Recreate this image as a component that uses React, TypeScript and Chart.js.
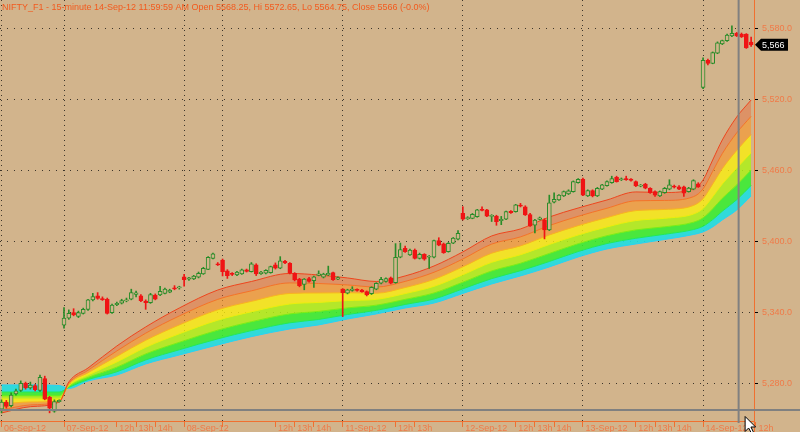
import React, { useEffect, useRef } from 'react';
import { Chart, registerables } from 'chart.js';

Chart.register(...registerables);

const TITLE = 'NIFTY_F1 - 15-minute 14-Sep-12 11:59:59 AM Open 5568.25, Hi 5572.65, Lo 5564.75, Close 5566 (-0.0%)';

// 15-minute bars: 06-Sep(13) 07-Sep(25) 08-Sep(8) 10-Sep(25) 11-Sep(25) 12-Sep(25) 13-Sep(25) 14-Sep(11)
const openP = [
  5258, 5264, 5261, 5271, 5274, 5280, 5276, 5278, 5274, 5284, 5268, 5256.5, 5264.5,
  5329, 5335, 5339.7, 5336.5, 5339, 5342.5, 5350.4, 5353.8, 5351.5, 5351, 5339.7, 5346.5, 5347.6, 5349.5, 5351, 5355, 5353.8, 5349.5, 5348, 5354.6, 5354.6, 5356, 5357, 5360.5, 5360.5,
  5370, 5368, 5368.2, 5369.6, 5372.4, 5376.3, 5385.6, 5381,
  5384, 5375, 5372.8, 5371.5, 5372.4, 5375.8, 5374.4, 5380, 5372.6, 5373, 5373.5, 5380, 5377.2, 5383, 5381.4, 5373, 5368, 5363.5, 5368.5, 5366.6, 5371.2, 5369.6, 5371.5, 5373.5, 5368,
  5359.5, 5356.2, 5358.4, 5359.2, 5358.7, 5357.4, 5355.8, 5359.5, 5364.5, 5366, 5369, 5365, 5386.5, 5394, 5388.4, 5392.6, 5385.6, 5389, 5386.5, 5386.5, 5400.5, 5397.8, 5391.2, 5398.3, 5401.7,
  5423.7, 5419, 5419.4, 5420.8, 5427, 5426.5, 5421, 5421.3, 5417.5, 5418.6, 5425.2, 5425, 5430.5, 5429.2, 5422.5, 5413.5, 5418.5, 5418, 5409.5, 5433, 5435, 5438.3, 5440, 5442, 5449.5,
  5452.4, 5438.3, 5442.8, 5438.3, 5444, 5447, 5449.5, 5454, 5452, 5453, 5452.5, 5450.4, 5446.5, 5448.4, 5444.8, 5442, 5438.3, 5441, 5444, 5446.5, 5446, 5446, 5442, 5444, 5448.6,
  5530, 5553, 5550.4, 5559, 5566.7, 5569.5, 5573.5, 5575.8, 5575, 5575, 5568.25,
];
const highP = [
  5266, 5265.5, 5272, 5275, 5282, 5281, 5281, 5279, 5287, 5286, 5269, 5266, 5266,
  5344, 5342, 5343, 5341, 5343.5, 5351, 5356, 5356.6, 5353, 5352, 5347, 5348.5, 5351, 5352, 5359.5, 5358, 5355, 5350.5, 5356, 5355.5, 5362, 5360.5, 5359.5, 5362.5, 5362,
  5372, 5369.5, 5371.2, 5374, 5378, 5387, 5390, 5382,
  5385, 5376, 5373.5, 5374.5, 5376.5, 5376.5, 5382, 5381, 5374.5, 5376, 5379, 5381.7, 5387, 5383.8, 5382, 5373.5, 5368.7, 5368.5, 5369.5, 5370.5, 5375, 5373, 5379, 5374, 5370,
  5360, 5359.5, 5361.6, 5359.8, 5359.3, 5358, 5361.5, 5365, 5369.5, 5369, 5369.8, 5398, 5398.5, 5396, 5393.5, 5393.5, 5390, 5389.5, 5388, 5401, 5403, 5398.5, 5399, 5403.2, 5409,
  5429.2, 5420.8, 5423.5, 5427, 5429, 5427, 5422.5, 5422, 5421, 5425.5, 5426, 5431.2, 5432, 5430, 5423.7, 5418.5, 5420.5, 5419, 5439, 5441, 5439.5, 5442.5, 5443.5, 5451, 5453,
  5453.5, 5443.5, 5443.5, 5445.5, 5448.2, 5451, 5455, 5455, 5453.5, 5455, 5453, 5451, 5448, 5449, 5445.3, 5442.6, 5442.5, 5445.5, 5452, 5447.5, 5447, 5446.7, 5445.6, 5452, 5449.5,
  5555, 5554, 5560, 5568.5, 5570, 5575, 5582, 5576.5, 5576, 5575.5, 5572.65,
];
const lowP = [
  5255, 5259, 5260, 5270, 5273, 5275, 5275, 5273.5, 5273, 5266, 5255, 5255.5, 5264,
  5326.5, 5334, 5337, 5335.5, 5338.5, 5341.5, 5349.5, 5351, 5350, 5338.5, 5339, 5345.5, 5347, 5348.8, 5350.5, 5353, 5349, 5342.5, 5347.5, 5350.5, 5354, 5355.5, 5356.5, 5359, 5359.5,
  5362, 5367, 5367.6, 5369, 5372, 5376, 5385, 5379.5,
  5370.7, 5368.6, 5371, 5371, 5372, 5374, 5374, 5371, 5372, 5372.4, 5373, 5376.5, 5376.8, 5381, 5372.5, 5366.5, 5361.5, 5359, 5365.5, 5361, 5370.8, 5369, 5371, 5367, 5367.5,
  5336.3, 5355.5, 5357.8, 5357.8, 5357, 5353.8, 5355, 5359, 5364, 5365.5, 5364, 5364.5, 5386, 5390.5, 5388, 5385, 5385, 5384, 5377, 5386, 5396.2, 5389.8, 5390.8, 5398, 5401.2,
  5418, 5418.4, 5419, 5420.3, 5425.6, 5420.8, 5416.7, 5413.5, 5414, 5418.2, 5423.6, 5424.6, 5429, 5421.8, 5412.5, 5407, 5418, 5402, 5409, 5432.5, 5434.5, 5437.8, 5439.5, 5441.5, 5449,
  5438.5, 5437.8, 5437.5, 5437.8, 5443.5, 5446.5, 5449, 5450, 5451.3, 5451.5, 5450.8, 5446.2, 5446, 5444.3, 5440.5, 5438, 5437.8, 5440.5, 5443.5, 5445, 5443.5, 5438, 5441.5, 5443.5, 5445.5,
  5529, 5549, 5550, 5558.5, 5566.2, 5569, 5573, 5573, 5572.2, 5563, 5564.75,
];
const closeP = [
  5264, 5260.5, 5270, 5273.5, 5280, 5276, 5278.5, 5274.5, 5285, 5266.5, 5259, 5264.5, 5265.5,
  5335, 5339, 5337.7, 5339.7, 5342.5, 5350.4, 5353.2, 5351.8, 5350.6, 5339, 5346, 5347.5, 5349.8, 5350.5, 5356.6, 5356.5, 5349.8, 5348, 5355, 5351, 5357.7, 5359.5, 5358.7, 5359.8, 5361.5,
  5367.5, 5369, 5370.5, 5373, 5377.2, 5386.5, 5389.3, 5380,
  5374.4, 5371, 5372, 5374, 5375.8, 5374.6, 5380.9, 5372.5, 5374, 5375.4, 5378.5, 5377.2, 5383.5, 5381.8, 5373, 5367.3, 5362.5, 5368, 5366, 5370, 5372.5, 5372.2, 5373, 5367.5, 5369.3,
  5356.6, 5359, 5359.6, 5358.5, 5357.5, 5354.6, 5361, 5364.5, 5367.8, 5368.5, 5364.6, 5386.5, 5393, 5391.2, 5392.5, 5385.6, 5389, 5384.8, 5387.3, 5400.5, 5396.8, 5390.4, 5398.3, 5402.6, 5406.8,
  5418.6, 5420, 5422.8, 5426.5, 5426, 5421.3, 5421.8, 5416.5, 5418.5, 5425, 5424.2, 5430.7, 5429.6, 5422.2, 5413, 5418, 5419.8, 5409.5, 5432.5, 5435.5, 5439, 5442, 5442.7, 5450.4, 5452.4,
  5439, 5442.8, 5438.3, 5444.8, 5447.6, 5450.4, 5453, 5450.4, 5452.8, 5452, 5451.5, 5446.7, 5447.5, 5444.8, 5441, 5439, 5442, 5444.8, 5447.6, 5445.7, 5444, 5440.6, 5445, 5451.2, 5446,
  5553, 5550.4, 5559.4, 5567.8, 5569.5, 5574.3, 5575.8, 5573.5, 5572.7, 5563.5, 5566,
];

// Moving-average ribbon, read at anchor bars (fast/red line first, slow/cyan last)
const ribbonIdx = [0, 6, 12, 14, 18, 24, 30, 37, 45, 52, 60, 66, 72, 78, 84, 90, 96, 102, 108, 114, 120, 126, 132, 138, 144, 146, 148, 150, 153, 156];
const ribbonRed = [5254.9, 5260.2, 5264.2, 5281.1, 5292.9, 5311.5, 5327.6, 5343.6, 5358.8, 5366.0, 5372.8, 5371.5, 5369.0, 5366.0, 5370.7, 5379.1, 5391.0, 5404.5, 5410.4, 5420.5, 5428.1, 5434.9, 5441.7, 5441.2, 5444.2, 5451.8, 5468.7, 5485.6, 5505.0, 5519.4];
const ribbonOrange = [5257.4, 5261.7, 5264.6, 5279.8, 5291.0, 5307.3, 5322.3, 5336.9, 5350.9, 5358.1, 5364.8, 5364.3, 5363.1, 5361.3, 5366.1, 5373.8, 5385.0, 5397.6, 5403.7, 5413.3, 5421.1, 5427.9, 5434.2, 5434.5, 5437.7, 5444.3, 5459.1, 5474.1, 5491.6, 5505.6];
const ribbonGold = [5262.5, 5264.2, 5265.0, 5279.0, 5288.9, 5302.7, 5316.3, 5329.3, 5342.1, 5349.2, 5355.9, 5356.3, 5356.5, 5356.1, 5360.9, 5367.8, 5378.4, 5389.9, 5396.1, 5405.3, 5413.2, 5420.0, 5425.9, 5426.9, 5430.3, 5436.0, 5448.3, 5461.3, 5476.7, 5490.2];
const ribbonYellow = [5266.7, 5266.7, 5266.7, 5278.1, 5286.9, 5298.0, 5310.4, 5321.8, 5333.3, 5340.4, 5347.0, 5348.3, 5349.9, 5350.9, 5355.8, 5361.9, 5371.7, 5382.2, 5388.6, 5397.3, 5405.3, 5412.1, 5417.5, 5419.4, 5423.0, 5427.7, 5437.6, 5448.4, 5461.8, 5474.8];
const ribbonLime = [5269.3, 5269.3, 5269.3, 5277.3, 5284.9, 5293.6, 5304.8, 5314.6, 5324.9, 5332.0, 5338.6, 5340.7, 5343.7, 5346.0, 5350.9, 5356.3, 5365.4, 5374.9, 5381.4, 5389.7, 5397.9, 5404.7, 5409.6, 5412.2, 5416.1, 5419.8, 5427.4, 5436.3, 5447.6, 5460.2];
const ribbonGreen = [5272.6, 5272.6, 5272.6, 5276.5, 5283.1, 5289.7, 5299.7, 5308.3, 5317.5, 5324.5, 5331.1, 5333.9, 5338.1, 5341.6, 5346.6, 5351.2, 5359.8, 5368.4, 5375.1, 5382.9, 5391.3, 5398.1, 5402.5, 5405.9, 5409.9, 5412.7, 5418.3, 5425.4, 5435.1, 5447.2];
const ribbonCyan = [5278.6, 5278.6, 5278.1, 5275.6, 5281.9, 5287.0, 5296.3, 5303.9, 5312.4, 5319.4, 5325.9, 5329.3, 5334.3, 5338.6, 5343.6, 5347.8, 5355.9, 5363.9, 5370.7, 5378.3, 5386.7, 5393.5, 5397.7, 5401.5, 5405.7, 5407.9, 5412.1, 5418.0, 5426.4, 5438.3];

// x-axis ticks (bar index) and their labels
const xTickIdx = [0, 13, 24, 28, 32, 38, 46, 57, 61, 65, 71, 82, 86, 96, 107, 111, 115, 121, 132, 136, 140, 146, 157];
const xTickLabels = ['06-Sep-12', '07-Sep-12', '12h', '13h', '14h', '08-Sep-12', '', '12h', '13h', '14h', '11-Sep-12', '12h', '13h', '12-Sep-12', '12h', '13h', '14h', '13-Sep-12', '12h', '13h', '14h', '14-Sep-12', '12h'];
const dayStartIdx = [0, 13, 38, 46, 71, 96, 121, 146];
const yTicks = [5280, 5340, 5400, 5460, 5520, 5580];

// crosshair (mouse) position in data units
const CROSS_IDX = 153.4;
const CROSS_VALUE = 5257.4;

// axis ranges
const X_MIN = -0.32;
const X_MAX = 156.6;
const Y_MIN = 5248.1;
const Y_MAX = 5603.9;

const BG = '#D2B48C';
const ORANGE = '#f07030';
const LABEL = '#f07a48';
const GRID = 'rgba(35,30,25,0.85)';
const FONT = '"Liberation Sans", Arial, sans-serif';
const UP = 'rgb(40,140,40)';
const DOWN = 'rgb(240,20,20)';

const ribbonStyles = [
  { line: 'rgb(238,70,30)', fill: 'rgba(0,0,0,0)' },
  { line: 'rgb(245,115,40)', fill: 'rgba(238,95,45,0.4)' },
  { line: 'rgb(250,180,30)', fill: 'rgba(250,150,40,0.62)' },
  { line: 'rgb(235,240,10)', fill: 'rgba(250,238,15,0.8)' },
  { line: 'rgb(120,240,20)', fill: 'rgba(175,240,25,0.85)' },
  { line: 'rgb(30,235,90)', fill: 'rgba(55,238,50,0.88)' },
  { line: 'rgb(40,210,245)', fill: 'rgba(30,222,225,0.9)' },
];

function fmtPrice(v: number, decimals: number) {
  const neg = v < 0;
  const fixed = Math.abs(v).toFixed(decimals);
  const [intPart, dec] = fixed.split('.');
  const withCommas = intPart.replace(/\B(?=(\d{3})+(?!\d))/g, ',');
  return (neg ? '-' : '') + withCommas + (dec ? '.' + dec : '');
}

const overlayPlugin = {
  id: 'overlay',
  beforeDraw(chart: any) {
    const { ctx, width, height } = chart;
    ctx.save();
    ctx.fillStyle = BG;
    ctx.fillRect(0, 0, width, height);
    ctx.restore();
  },
  afterDraw(chart: any) {
    const { ctx, chartArea, scales } = chart;
    const xs = scales.x;
    const ys = scales.y;
    ctx.save();
    ctx.strokeStyle = ORANGE;
    ctx.lineWidth = 1;
    ctx.beginPath();
    ctx.moveTo(chartArea.right + 0.5, chartArea.bottom);
    ctx.lineTo(chartArea.right + 0.5, chart.height);
    ctx.stroke();

    // crosshair
    const cx = xs.getPixelForValue(CROSS_IDX);
    const cy = ys.getPixelForValue(CROSS_VALUE);
    ctx.strokeStyle = 'rgb(128,128,128)';
    ctx.lineWidth = 2;
    ctx.beginPath();
    ctx.moveTo(cx, 0);
    ctx.lineTo(cx, chartArea.bottom + 2);
    ctx.stroke();
    ctx.beginPath();
    ctx.moveTo(0, cy);
    ctx.lineTo(chart.width, cy);
    ctx.stroke();

    // title
    ctx.fillStyle = '#f25a1e';
    ctx.font = '9px ' + FONT;
    ctx.textBaseline = 'top';
    ctx.textAlign = 'left';
    ctx.fillText(TITLE, 2, 3);

    // last price tag
    const last = closeP[closeP.length - 1];
    const py = ys.getPixelForValue(last);
    const left = chartArea.right + 1;
    ctx.fillStyle = '#000';
    ctx.beginPath();
    ctx.moveTo(left, py);
    ctx.lineTo(left + 6, py - 6);
    ctx.lineTo(left + 33, py - 6);
    ctx.lineTo(left + 33, py + 6);
    ctx.lineTo(left + 6, py + 6);
    ctx.closePath();
    ctx.fill();
    ctx.fillStyle = '#fff';
    ctx.font = '9px ' + FONT;
    ctx.textBaseline = 'middle';
    ctx.fillText(fmtPrice(last, 0), left + 7, py + 0.5);

    // mouse pointer
    const tx = cx + 6.5;
    const ty = cy + 6.5;
    ctx.fillStyle = '#fff';
    ctx.strokeStyle = '#000';
    ctx.lineWidth = 1;
    ctx.beginPath();
    ctx.moveTo(tx, ty);
    ctx.lineTo(tx, ty + 15);
    ctx.lineTo(tx + 3.5, ty + 11.5);
    ctx.lineTo(tx + 6.5, ty + 17);
    ctx.lineTo(tx + 8.5, ty + 16);
    ctx.lineTo(tx + 5.8, ty + 10.5);
    ctx.lineTo(tx + 10.5, ty + 10.5);
    ctx.closePath();
    ctx.fill();
    ctx.stroke();
    ctx.restore();
  },
};

export default function App() {
  const ref = useRef<HTMLCanvasElement | null>(null);

  useEffect(() => {
    document.body.style.margin = '0';
    const canvas = ref.current;
    if (!canvas) return;

    const ribbonValues = [ribbonRed, ribbonOrange, ribbonGold, ribbonYellow, ribbonLime, ribbonGreen, ribbonCyan];
    const ribbonSets = ribbonValues.map((vals, k) => ({
      type: 'line' as const,
      data: ribbonIdx.map((x, i) => ({ x, y: vals[i] })),
      borderColor: ribbonStyles[k].line,
      backgroundColor: ribbonStyles[k].fill,
      borderWidth: 1,
      pointRadius: 0,
      cubicInterpolationMode: 'monotone' as const,
      fill: k === 0 ? false : '-1',
      order: 10,
    }));

    const isUp = openP.map((o, i) => closeP[i] >= o);

    const wicks = {
      type: 'bar' as const,
      data: openP.map((_, i) => ({ x: i, y: [lowP[i], highP[i]] })),
      backgroundColor: isUp.map((u) => (u ? UP : DOWN)),
      borderWidth: 0,
      barThickness: 1,
      grouped: false,
      order: 2,
    };

    const bodies = {
      type: 'bar' as const,
      data: openP.map((o, i) => ({ x: i, y: [Math.min(o, closeP[i]), Math.max(o, closeP[i])] })),
      backgroundColor: isUp.map((u) => (u ? BG : DOWN)),
      borderColor: isUp.map((u) => (u ? UP : DOWN)),
      borderWidth: 1,
      borderSkipped: false,
      barThickness: 4,
      minBarLength: 1,
      grouped: false,
      order: 1,
    };

    const chart = new Chart(canvas, {
      type: 'bar',
      data: { datasets: [...ribbonSets, wicks, bodies] as any },
      options: {
        animation: false,
        responsive: false,
        devicePixelRatio: 1,
        events: [],
        layout: { padding: 0 },
        plugins: {
          legend: { display: false },
          tooltip: { enabled: false },
          title: { display: false },
        },
        scales: {
          x: {
            type: 'linear',
            min: X_MIN,
            max: X_MAX,
            offset: false,
            bounds: 'data',
            afterBuildTicks: (s: any) => {
              s.ticks = xTickIdx.map((v) => ({ value: v }));
            },
            afterFit: (s: any) => {
              s.height = 11;
              s.paddingLeft = 0;
              s.paddingRight = 0;
              s.paddingTop = 0;
              s.paddingBottom = 0;
            },
            ticks: {
              autoSkip: false,
              maxRotation: 0,
              minRotation: 0,
              align: 'start',
              padding: -4,
              color: LABEL,
              font: { family: FONT, size: 9 },
              callback: (_v: any, i: number) => (xTickLabels[i] ? ' ' + xTickLabels[i] : ''),
            },
            grid: {
              offset: false,
              color: (c: any) => (c.tick && dayStartIdx.includes(c.tick.value) ? GRID : 'rgba(0,0,0,0)'),
              tickColor: ORANGE,
              tickLength: 6,
              lineWidth: 1,
            },
            border: { display: true, color: ORANGE, width: 1, dash: [1, 4] },
          },
          y: {
            type: 'linear',
            position: 'right',
            min: Y_MIN,
            max: Y_MAX,
            bounds: 'data',
            afterBuildTicks: (s: any) => {
              s.ticks = yTicks.map((v) => ({ value: v }));
            },
            afterFit: (s: any) => {
              s.width = 46;
              s.paddingTop = 0;
              s.paddingBottom = 0;
              s.paddingLeft = 0;
              s.paddingRight = 0;
            },
            ticks: {
              color: LABEL,
              padding: 4,
              font: { family: FONT, size: 9 },
              callback: (v: any) => fmtPrice(Number(v), 1),
            },
            grid: {
              color: GRID,
              tickColor: '#000',
              tickLength: 4,
              lineWidth: 1,
            },
            border: { display: true, color: ORANGE, width: 1, dash: [1, 6] },
          },
        },
      } as any,
      plugins: [overlayPlugin],
    });

    return () => chart.destroy();
  }, []);

  return <canvas ref={ref} width={800} height={432} style={{ display: 'block', width: 800, height: 432 }} />;
}
